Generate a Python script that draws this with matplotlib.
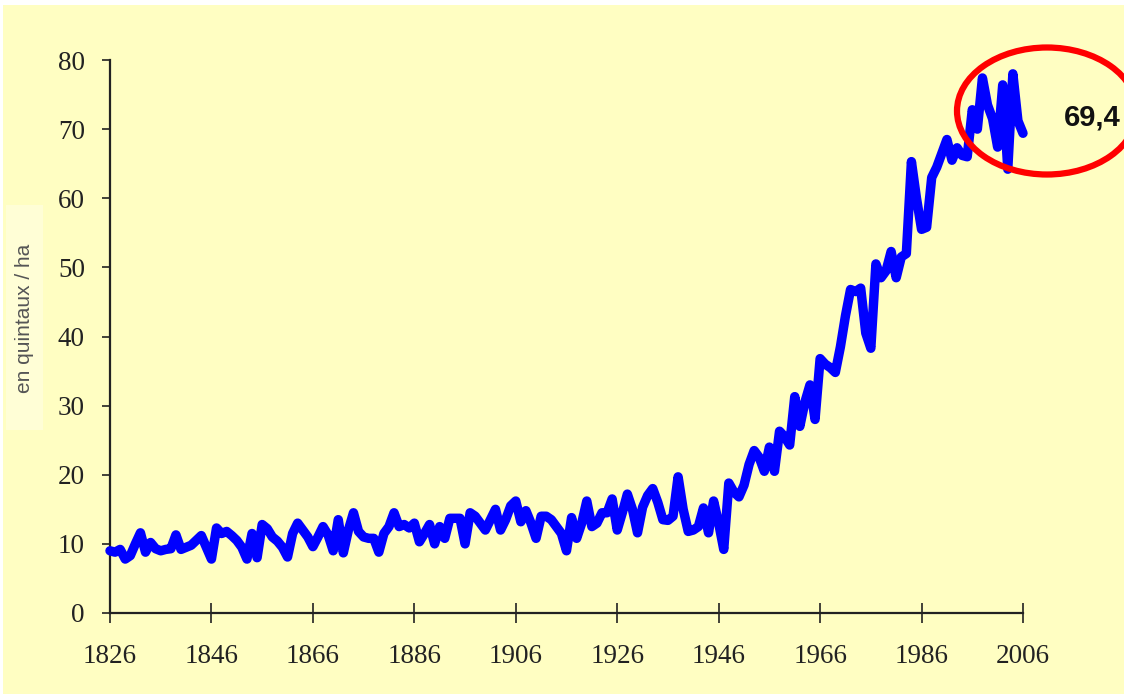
import matplotlib
matplotlib.use("Agg")
import matplotlib.pyplot as plt
from matplotlib.patches import Ellipse, Rectangle
import numpy as np

years = list(range(1826, 2007))
yields = [
    9.0, 8.8, 9.2, 7.8, 8.3, 10.0, 11.6, 8.8, 10.2, 9.3,          # 1826-1835
    9.0, 9.2, 9.3, 11.3, 9.2, 9.5, 9.8, 10.5, 11.2, 9.5,          # 1836-1845
    7.8, 12.3, 11.5, 11.8, 11.2, 10.5, 9.5, 7.8, 11.5, 8.0,       # 1846-1855
    12.8, 12.2, 11.0, 10.4, 9.5, 8.1, 11.5, 13.0, 12.0, 11.0,     # 1856-1865
    9.6, 11.0, 12.5, 11.3, 9.0, 13.5, 8.7, 12.0, 14.5, 11.8,      # 1866-1875
    11.0, 10.8, 10.8, 8.8, 11.5, 12.5, 14.5, 12.5, 12.8, 12.3,    # 1876-1885
    13.0, 10.3, 11.5, 12.8, 10.0, 12.5, 10.8, 13.7, 13.7, 13.7,   # 1886-1895
    10.0, 14.5, 14.0, 13.0, 12.0, 13.5, 15.0, 12.0, 13.5, 15.5,   # 1896-1905
    16.2, 13.2, 14.8, 13.0, 10.8, 14.0, 14.0, 13.5, 12.5, 11.5,   # 1906-1915
    9.0, 13.8, 10.8, 13.0, 16.2, 12.5, 13.0, 14.5, 14.5, 16.5,    # 1916-1925
    12.0, 14.5, 17.2, 15.0, 11.6, 15.3, 17.0, 18.0, 16.0, 13.5,   # 1926-1935
    13.4, 14.0, 19.7, 15.0, 11.8, 12.0, 12.5, 15.2, 11.6, 16.2,   # 1936-1945
    13.0, 9.2, 18.8, 17.5, 16.8, 18.5, 21.5, 23.5, 22.5, 20.5,    # 1946-1955
    24.0, 20.5, 26.3, 25.5, 24.3, 31.3, 27.0, 30.5, 33.0, 28.0,   # 1956-1965
    36.8, 36.0, 35.5, 34.8, 38.5, 43.0, 46.8, 46.5, 47.0, 40.5,   # 1966-1975
    38.3, 50.5, 48.5, 49.5, 52.3, 48.5, 51.5, 52.0, 65.3, 60.0,   # 1976-1985
    55.5, 55.8, 63.0, 64.5, 66.5, 68.5, 65.5, 67.3, 66.2, 66.0,   # 1986-1995
    72.8, 70.0, 77.4, 73.5, 71.5, 67.4, 76.4, 64.2, 78.0, 71.2,   # 1996-2005
    69.4,                                                           # 2006
]
xticks = [1826, 1846, 1866, 1886, 1906, 1926, 1946, 1966, 1986, 2006]
yticks = [0, 10, 20, 30, 40, 50, 60, 70, 80]
ylabel = "en quintaux / ha"
last_label = "69,4"

W, H = 1124, 694
bg = "#FFFEC2"
fig = plt.figure(figsize=(W / 100, H / 100), dpi=100)
fig.patch.set_facecolor("white")
fig.patches.append(Rectangle((3 / W, 0), 1, 1 - 5 / H, transform=fig.transFigure,
                             facecolor=bg, edgecolor="none", zorder=-10))
# y-label box
fig.patches.append(Rectangle((6 / W, 1 - 430 / H), 37 / W, 225 / H, transform=fig.transFigure,
                             facecolor="#FFFED6", edgecolor="none", zorder=-5))
fig.text(25 / W, 1 - 318 / H, ylabel, rotation=90, ha="center", va="center",
         fontsize=15, color="#555555", family=["Liberation Sans", "DejaVu Sans"])

ax = fig.add_axes([110 / W, 1 - 613 / H, (1023 - 110) / W, (613 - 60) / H])
ax.set_facecolor(bg)
ax.plot(years, yields, color="#0000FF", lw=6.8, solid_joinstyle="round",
        solid_capstyle="round", zorder=3, clip_on=False)
ax.set_xlim(1826, 2006)
ax.set_ylim(0, 80)
ax.set_xticks(xticks)
ax.set_yticks(yticks)
for s in ["top", "right"]:
    ax.spines[s].set_visible(False)
for s in ["left", "bottom"]:
    ax.spines[s].set_linewidth(1.6)
    ax.spines[s].set_color("#222222")
ax.tick_params(axis="x", direction="inout", length=14, width=1.2, pad=15, color="#222222")
ax.tick_params(axis="y", direction="out", length=6, width=1.2, pad=12, color="#222222")
for lab in ax.get_xticklabels() + ax.get_yticklabels():
    lab.set_family(["Liberation Serif", "DejaVu Serif"])
    lab.set_fontsize(19.5)
    lab.set_color("#222222")

# red ellipse and final value
fig.patches.append(Ellipse((1047 / W, 1 - 111 / H), 180 / W, 127 / H, transform=fig.transFigure,
                           facecolor="none", edgecolor="#FF0000", lw=4.5, zorder=10))
fig.text(1092 / W, 1 - 117 / H, last_label, ha="center", va="center", fontsize=21,
         fontweight="bold", color="#111111",
         family=["Liberation Sans Narrow", "Liberation Sans", "DejaVu Sans"])

fig.savefig("out.png", dpi=100, facecolor=fig.get_facecolor())
